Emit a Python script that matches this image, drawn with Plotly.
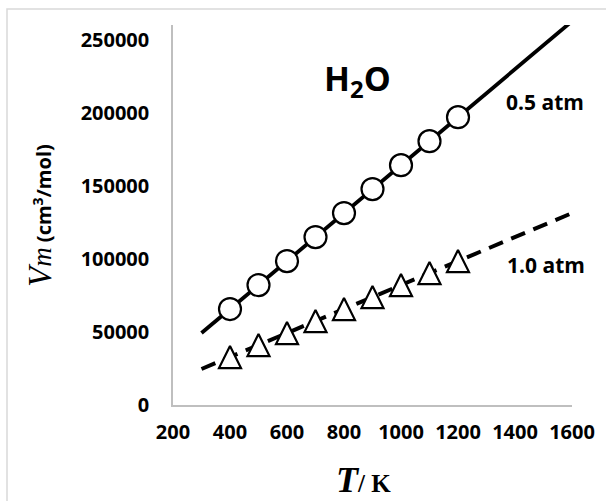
import plotly.graph_objects as go

# Data
T_pts = [400, 500, 600, 700, 800, 900, 1000, 1100, 1200]
V_05atm = [65648, 82060, 98472, 114884, 131296, 147708, 164120, 180532, 196944]
V_10atm = [32824, 41030, 49236, 57442, 65648, 73854, 82060, 90266, 98472]

T_fit = [300, 1600]
V_fit_05 = [49236, 262592]
V_fit_10 = [24618, 131296]

x_ticks = [200, 400, 600, 800, 1000, 1200, 1400, 1600]
y_ticks = [0, 50000, 100000, 150000, 200000, 250000]

W, H = 606, 501
L, R, Tm, B = 173, 34, 25, 96
pw, ph = W - L - R, H - Tm - B

def px_x(p):
    return (p - L) / pw

def px_y(p):
    return (H - B - p) / ph

fig = go.Figure()

fig.add_trace(go.Scatter(x=T_fit, y=V_fit_05, mode="lines",
                         line=dict(color="black", width=3.8), showlegend=False))
fig.add_trace(go.Scatter(x=T_fit, y=V_fit_10, mode="lines",
                         line=dict(color="black", width=4, dash="15px,9px"), showlegend=False))
fig.add_trace(go.Scatter(x=T_pts, y=V_05atm, mode="markers",
                         marker=dict(symbol="circle", size=22, color="white",
                                     line=dict(color="black", width=2.2)), showlegend=False))
fig.add_trace(go.Scatter(x=T_pts, y=V_10atm, mode="markers",
                         marker=dict(symbol="arrow-down", angle=180, size=22, color="white", standoff=11,
                                     line=dict(color="black", width=2.2)), showlegend=False))

tickfont = dict(family="Open Sans", size=20, color="black", weight="bold")

fig.update_xaxes(range=[200, 1600], tickvals=x_ticks, ticktext=[str(v) for v in x_ticks],
                 showgrid=False, zeroline=False, showline=True, linecolor="#bfbfbf", linewidth=1.5,
                 ticks="", tickfont=tickfont, ticklabelstandoff=8)
fig.update_yaxes(range=[0, 260000], tickvals=y_ticks, ticktext=[str(v) for v in y_ticks],
                 showgrid=False, zeroline=False, showline=True, linecolor="#bfbfbf", linewidth=1.5,
                 ticks="", tickfont=tickfont, ticklabelstandoff=18)

common = dict(xref="paper", yref="paper", showarrow=False, xanchor="center", yanchor="middle")
annotations = [
    dict(text="<b>H<sub>2</sub>O</b>", x=px_x(357), y=px_y(80),
         font=dict(family="Open Sans", size=34, color="black"), **common),
    dict(text="<b>0.5 atm</b>", x=px_x(545), y=px_y(102),
         font=dict(family="Open Sans", size=21, color="black"), **common),
    dict(text="<b>1.0 atm</b>", x=px_x(546), y=px_y(265),
         font=dict(family="Open Sans", size=21, color="black"), **common),
    dict(text="<i>V</i><span style='font-size:27px'><i>m</i></span>"
              "<span style='font-family:Open Sans;font-size:20px'><b> (cm<sup>3</sup>/mol)</b></span>",
         x=px_x(40), y=px_y(216), textangle=-90,
         font=dict(family="Liberation Serif", size=33, color="black"), **common),
    dict(text="<span style='font-size:36px'><b><i>T</i></b></span><b>/ K</b>",
         x=px_x(363), y=px_y(480),
         font=dict(family="Liberation Serif", size=25, color="black"), **common),
]

shapes = [
    dict(type="rect", xref="paper", yref="paper",
         x0=px_x(7), x1=px_x(640), y0=px_y(540), y1=px_y(9),
         line=dict(color="#d9d9d9", width=1.5), fillcolor="rgba(0,0,0,0)", layer="below"),
]

fig.update_layout(width=W, height=H, margin=dict(l=L, r=R, t=Tm, b=B),
                  paper_bgcolor="white", plot_bgcolor="white",
                  annotations=annotations, shapes=shapes)

fig.write_html("out.html")
